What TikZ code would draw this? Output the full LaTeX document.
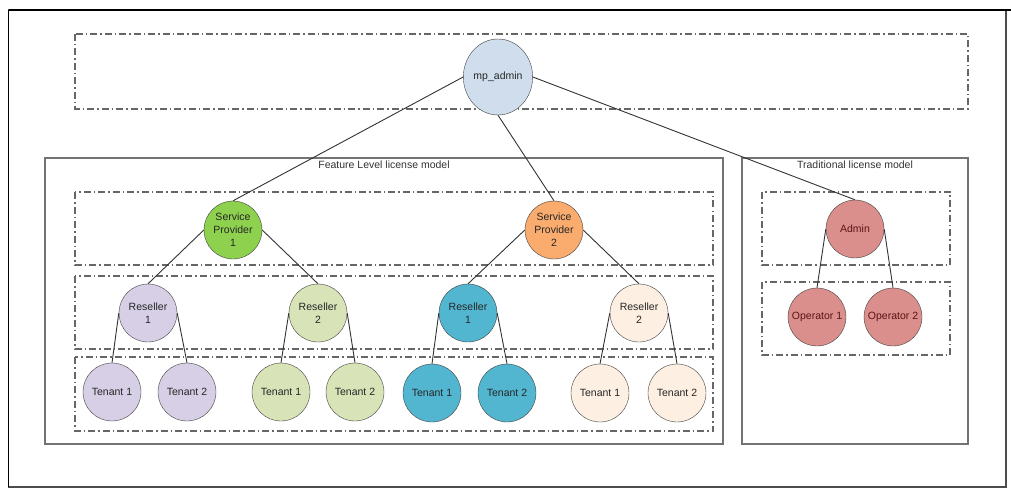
\documentclass[tikz,border=0pt]{standalone}
\usepackage{fontspec}
\setmainfont{Liberation Sans}
\usetikzlibrary{shapes.geometric}

\definecolor{rootblue}{RGB}{207,221,237}
\definecolor{spgreen}{RGB}{142,209,78}
\definecolor{sporange}{RGB}{250,172,110}
\definecolor{lilac}{RGB}{214,207,229}
\definecolor{sage}{RGB}{216,228,184}
\definecolor{teal}{RGB}{82,182,208}
\definecolor{cream}{RGB}{253,240,226}
\definecolor{rose}{RGB}{219,143,140}

\begin{document}
\begin{tikzpicture}[x=1pt,y=-1pt,
    member/.style ={circle, draw=black!75, fill=#1, inner sep=0pt, minimum size=58pt,
                    align=center, text=black!85, font=\fontsize{10.5}{13}\selectfont},
    root/.style ={ellipse, draw=black!75, fill=rootblue, inner sep=0pt, minimum width=56pt,
                  minimum height=76pt, text=black!85, font=\fontsize{10.5}{12}\selectfont},
    level/.style ={draw=black!60, line width=1.3pt, dash pattern=on 7pt off 3pt on 1.5pt off 3pt},
    model/.style ={draw=black!55, line width=1.6pt},
    title/.style ={text=black!80, inner sep=1pt, font=\fontsize{10.5}{12}\selectfont},
    link/.style ={draw=black!80, line width=0.9pt}]
   \useasboundingbox (0,0) rectangle (1011,489);
   \draw[black!70, line width=1.2pt] (8.7,10) rectangle (1006,487);
   \draw[black, line width=1.5pt] (8.7,10) -- (1011,10);
   \draw[black, line width=1.2pt] (8.7,10) -- (8.7,487);

   \draw[level] (75,34) rectangle (968,109);
   \draw[model] (45,158) rectangle (723,444);
   \draw[model] (742,158) rectangle (968,444);
   \node[title] (fl) at (384,165) {Feature Level license model};
   \node[title] (tl) at (855,165) {Traditional license model};

   \draw[level] (75,192) rectangle (713,265);
   \draw[level] (75,276) rectangle (713,349);
   \draw[level] (75,357) rectangle (713,431);
   \draw[level] (762,192) rectangle (950,265);
   \draw[level] (762,282) rectangle (950,355);

   \node[root] (mp) at (498,77) {mp\_admin};

   \node[member=spgreen] (sp1) at (233,230) {Service\\Provider\\1};
   \node[member=sporange] (sp2) at (554,230) {Service\\Provider\\2};

   \node[member=lilac] (r11) at (148,313) {Reseller\\1};
   \node[member=sage] (r12) at (318,313) {Reseller\\2};
   \node[member=teal] (r21) at (468,313) {Reseller\\1};
   \node[member=cream] (r22) at (639,313) {Reseller\\2};

   \node[member=lilac] (t111) at (112,392) {Tenant 1};
   \node[member=lilac] (t112) at (187,392) {Tenant 2};
   \node[member=sage] (t121) at (281,392) {Tenant 1};
   \node[member=sage] (t122) at (355,392) {Tenant 2};
   \node[member=teal] (t211) at (432,393) {Tenant 1};
   \node[member=teal] (t212) at (507,393) {Tenant 2};
   \node[member=cream] (t221) at (600,393) {Tenant 1};
   \node[member=cream] (t222) at (677,393) {Tenant 2};

   \node[member=rose, text={rgb,255:red,90;green,20;blue,20}] (ad) at (855,229) {Admin};
   \node[member=rose, text={rgb,255:red,90;green,20;blue,20}] (op1) at (817,317) {Operator 1};
   \node[member=rose, text={rgb,255:red,90;green,20;blue,20}] (op2) at (893,317) {Operator 2};

   \draw[link] (mp.west) -- (sp1.north);
   \draw[link] (mp.south) -- (sp2.north);
   \draw[link] (mp.east) -- (ad.north);

   \draw[link] (sp1.west) -- (r11.north);
   \draw[link] (sp1.east) -- (r12.north);
   \draw[link] (sp2.west) -- (r21.north);
   \draw[link] (sp2.east) -- (r22.north);

   \draw[link] (r11.west) -- (t111.north);
   \draw[link] (r11.east) -- (t112.north);
   \draw[link] (r12.west) -- (t121.north);
   \draw[link] (r12.east) -- (t122.north);
   \draw[link] (r21.west) -- (t211.north);
   \draw[link] (r21.east) -- (t212.north);
   \draw[link] (r22.west) -- (t221.north);
   \draw[link] (r22.east) -- (t222.north);

   \draw[link] (ad.west) -- (op1.north);
   \draw[link] (ad.east) -- (op2.north);
 \end{tikzpicture}
\end{document}
